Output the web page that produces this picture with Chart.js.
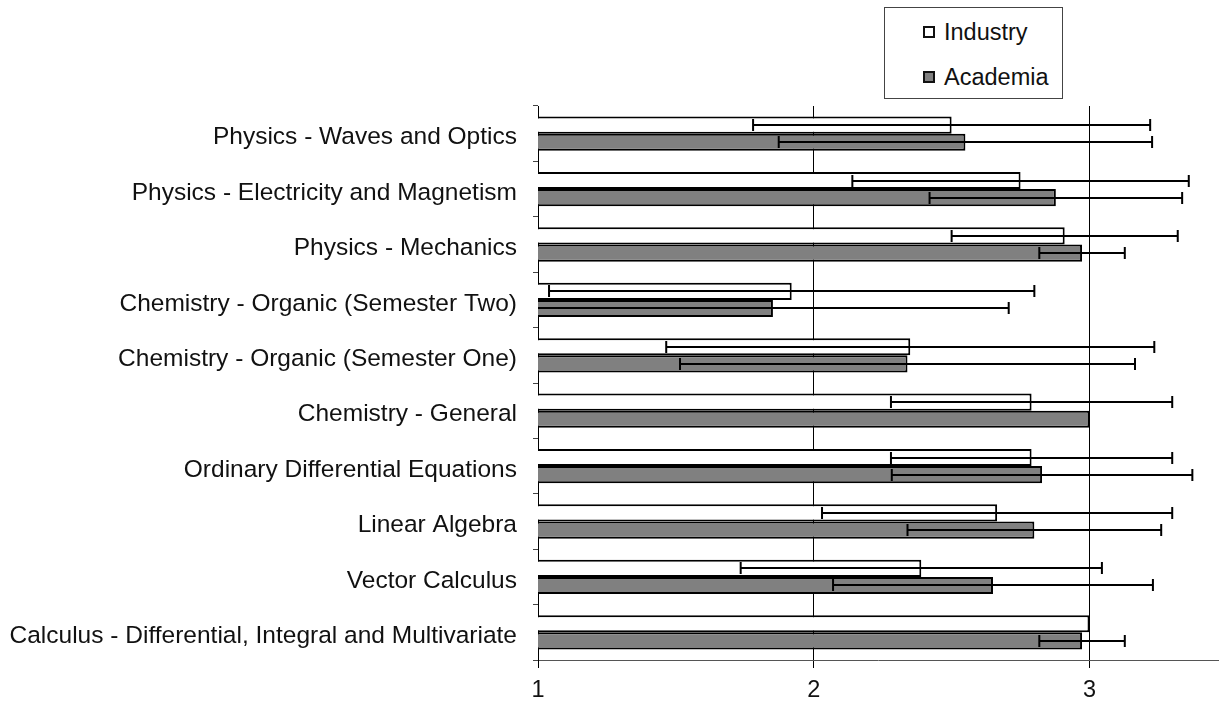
<!DOCTYPE html>
<html>
<head>
<meta charset="utf-8">
<script src="https://cdn.jsdelivr.net/npm/chart.js@4/dist/chart.umd.min.js"></script>
<style>
  html, body { margin: 0; padding: 0; background: #fff; }
  #wrap { position: relative; width: 1220px; height: 702px; }
  canvas { display: block; }
  #legend {
    position: absolute; left: 884px; top: 7px; width: 179px; height: 92px;
    border: 1px solid #444; background: #fff; box-sizing: border-box;
    font-family: "Liberation Sans", Arial, sans-serif; font-size: 23.5px; color: #111;
  }
  .item { position: absolute; left: 38px; height: 28px; line-height: 28px; white-space: nowrap; }
  .sw { display: inline-block; width: 8px; height: 8px; border: 2px solid #111; vertical-align: middle; margin-right: 9px; position: relative; top: -2px; }
</style>
</head>
<body>
<div id="wrap">
  <canvas id="c" width="1220" height="702"></canvas>
  <div id="legend">
    <div class="item" style="top:10px"><span class="sw" style="background:#fff"></span>Industry</div>
    <div class="item" style="top:55px"><span class="sw" style="background:#808080"></span>Academia</div>
  </div>
</div>
<script>
const categories = [
  "Physics - Waves and Optics",
  "Physics - Electricity and Magnetism",
  "Physics - Mechanics",
  "Chemistry - Organic (Semester Two)",
  "Chemistry - Organic (Semester One)",
  "Chemistry - General",
  "Ordinary Differential Equations",
  "Linear Algebra",
  "Vector Calculus",
  "Calculus - Differential, Integral and Multivariate"
];
const industry    = [2.50, 2.75, 2.91, 1.92, 2.35, 2.79, 2.79, 2.665, 2.39, 3.00];
const industryErr = [0.72, 0.61, 0.41, 0.88, 0.885, 0.51, 0.51, 0.635, 0.655, 0];
const academia    = [2.55, 2.878, 2.973, 1.852, 2.34, 3.00, 2.828, 2.80, 2.65, 2.973];
const academiaErr = [0.677, 0.458, 0.155, 0.855, 0.825, 0, 0.545, 0.46, 0.58, 0.155];
const xTicks = [1, 2, 3];
const xMin = 1, xMax = 3.466;

const FONT = '"Liberation Sans", Arial, sans-serif';

const errorBars = {
  id: 'errorBars',
  afterDatasetsDraw(chart) {
    const ctx = chart.ctx, xs = chart.scales.x, area = chart.chartArea;
    ctx.save();
    ctx.strokeStyle = '#000';
    ctx.lineWidth = 2;
    chart.data.datasets.forEach((ds, di) => {
      const meta = chart.getDatasetMeta(di);
      meta.data.forEach((bar, i) => {
        const e = ds.err[i];
        if (!e) return;
        const v = ds.data[i];
        let lo = xs.getPixelForValue(v - e), hi = xs.getPixelForValue(v + e);
        const loCap = lo >= area.left, hiCap = hi <= area.right;
        lo = Math.max(lo, area.left); hi = Math.min(hi, area.right);
        const y = Math.round(bar.y);
        ctx.beginPath();
        ctx.moveTo(lo, y); ctx.lineTo(hi, y);
        if (loCap) { ctx.moveTo(lo, y - 6); ctx.lineTo(lo, y + 6); }
        if (hiCap) { ctx.moveTo(hi, y - 6); ctx.lineTo(hi, y + 6); }
        ctx.stroke();
      });
    });
    ctx.restore();
  }
};

new Chart(document.getElementById('c'), {
  type: 'bar',
  data: {
    labels: categories,
    datasets: [
      { label: 'Industry', data: industry, err: industryErr, backgroundColor: '#ffffff', borderColor: '#000', borderWidth: 2, borderSkipped: false },
      { label: 'Academia', data: academia, err: academiaErr, backgroundColor: '#808080', borderColor: '#000', borderWidth: 2, borderSkipped: false }
    ]
  },
  options: {
    indexAxis: 'y',
    responsive: false,
    animation: false,
    events: [],
    layout: { padding: { top: 106, right: 2, left: 0, bottom: 0 } },
    datasets: { bar: { categoryPercentage: 0.62, barPercentage: 1.0 } },
    plugins: { legend: { display: false }, tooltip: { enabled: false } },
    scales: {
      x: {
        type: 'linear', min: xMin, max: xMax,
        afterBuildTicks(s) { s.ticks = xTicks.map(v => ({ value: v })); },
        afterFit(s) { s.height = 42; },
        border: { display: true, color: '#555', width: 1 },
        grid: { color: '#000', lineWidth: 1, tickLength: 8, drawTicks: true },
        ticks: { color: '#111', font: { family: FONT, size: 23.5 }, padding: 8, maxRotation: 0 }
      },
      y: {
        type: 'category',
        afterFit(s) { s.width = 538; },
        border: { display: true, color: '#000', width: 1 },
        grid: { offset: true, drawOnChartArea: false, color: '#444', tickLength: 5 },
        ticks: { color: '#111', font: { family: FONT, size: 24.5 }, padding: 16, crossAlign: 'near', labelOffset: 4 }
      }
    }
  },
  plugins: [errorBars]
});
</script>
</body>
</html>
